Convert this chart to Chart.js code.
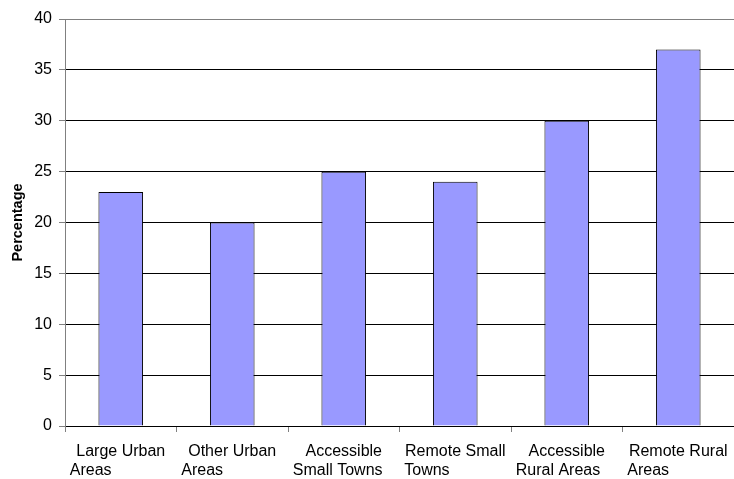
<!DOCTYPE html>
<html>
<head>
<meta charset="utf-8">
<script src="https://cdn.jsdelivr.net/npm/chart.js"></script>
<style>
  html, body { margin: 0; padding: 0; background: #fff; }
  #wrap { width: 734px; height: 479px; }
</style>
</head>
<body>
<div id="wrap"><canvas id="chart"></canvas></div>
<script>
// chart data
const categories = [
    ['Large Urban', 'Areas'],
    ['Other Urban', 'Areas'],
    ['Accessible', 'Small Towns'],
    ['Remote Small', 'Towns'],
    ['Accessible', 'Rural Areas'],
    ['Remote Rural', 'Areas']
];
const percentages = [23, 20, 25, 24, 30, 37];
const yTicks = [0, 5, 10, 15, 20, 25, 30, 35, 40];

const labelFont = '16px "Liberation Sans", Arial, sans-serif';

// Excel-style wrapped labels: first line centred, second line flush left
const wrappedLabels = {
    id: 'wrappedLabels',
    afterDraw(chart) {
        const ctx = chart.ctx;
        const xScale = chart.scales.x;
        const bottom = chart.chartArea.bottom;
        ctx.save();
        ctx.font = labelFont;
        ctx.fillStyle = '#000';
        ctx.textBaseline = 'alphabetic';
        categories.forEach((lines, i) => {
            const cx = xScale.getPixelForValue(i);
            ctx.textAlign = 'center';
            ctx.fillText(lines[0], cx, bottom + 30);
            ctx.textAlign = 'left';
            ctx.fillText(lines[1], cx - 51, bottom + 49);
        });
        ctx.restore();
    }
};

new Chart(document.getElementById('chart'), {
    type: 'bar',
    data: {
        labels: categories.map(c => c.join(' ')),
        datasets: [{
            label: 'Percentage',
            data: percentages,
            backgroundColor: '#9999FF',
            borderColor: '#000',
            borderWidth: 1,
            barPercentage: 0.4,
            categoryPercentage: 1
        }]
    },
    options: {
        responsive: true,
        maintainAspectRatio: false,
        animation: false,
        layout: {
            padding: { top: 19, right: 0, bottom: 0, left: 0 }
        },
        plugins: {
            legend: { display: false },
            tooltip: { enabled: false }
        },
        scales: {
            x: {
                afterFit: scale => { scale.height = 53; },
                border: { color: '#000', width: 1 },
                grid: {
                    offset: true,
                    drawOnChartArea: false,
                    drawTicks: true,
                    tickLength: 6,
                    tickColor: '#808080'
                },
                ticks: { display: false }
            },
            y: {
                min: 0,
                max: 40,
                afterFit: scale => { scale.width = 65; },
                afterBuildTicks: scale => {
                    scale.ticks = yTicks.map(v => ({ value: v }));
                },
                border: { color: '#808080', width: 1 },
                grid: {
                    color: ctx => (ctx.tick && ctx.tick.value === 40) ? '#808080' : '#000',
                    lineWidth: 1,
                    tickLength: 6,
                    tickColor: '#808080'
                },
                ticks: {
                    color: '#000',
                    padding: 7,
                    font: { family: '"Liberation Sans", Arial, sans-serif', size: 16 }
                },
                title: {
                    display: true,
                    text: 'Percentage',
                    color: '#000',
                    padding: { top: 9, bottom: 0 },
                    font: { family: '"Liberation Sans", Arial, sans-serif', size: 14.5, weight: 'bold' }
                }
            }
        }
    },
    plugins: [wrappedLabels]
});
</script>
</body>
</html>
